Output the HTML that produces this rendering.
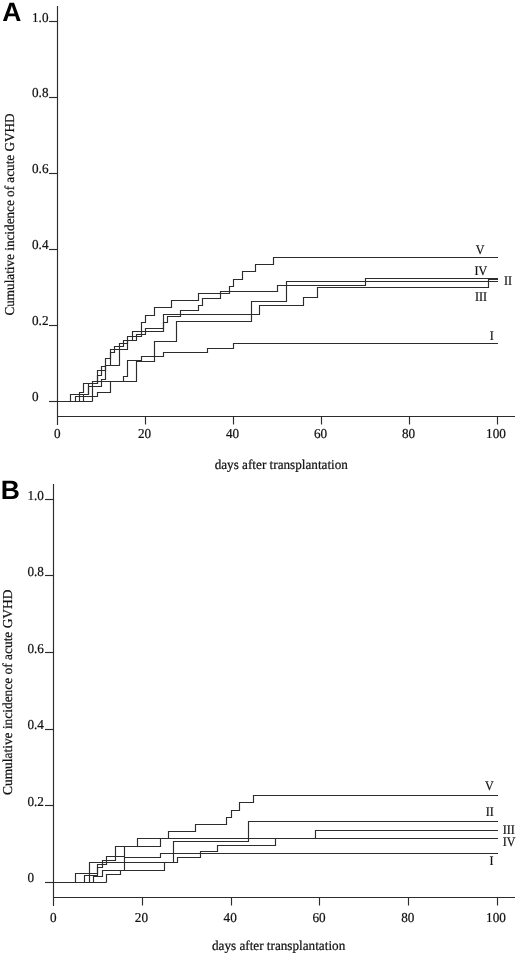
<!DOCTYPE html>
<html lang="en">
<head>
<meta charset="utf-8">
<title>Cumulative incidence of acute GVHD</title>
<style>
html,body{margin:0;padding:0;background:#fff;}
body{width:520px;height:958px;overflow:hidden;}
svg{display:block;}
.ax{fill:none;stroke:#2c2c2c;stroke-width:1.15;shape-rendering:auto;}
.cv{fill:none;stroke:#2c2c2c;stroke-width:1.15;stroke-linejoin:miter;}
text{font-family:"Liberation Serif","Times New Roman",Times,serif;font-size:13.6px;text-rendering:geometricPrecision;fill:#111;stroke:#111;stroke-width:0.22px;}
.lb{font-size:13.1px;}
.pl{font-family:"Liberation Sans",Arial,Helvetica,sans-serif;font-weight:bold;font-size:26.5px;text-rendering:geometricPrecision;stroke:none;fill:#000;}
</style>
</head>
<body>
<svg width="520" height="958" viewBox="0 0 520 958">
<rect x="0" y="0" width="520" height="958" fill="#ffffff"/>

<g>
<text class="pl" x="2.2" y="21.3">A</text>
<path class="ax" d="M57.5 6V425.0"/>
<path class="ax" d="M57.5 416.5H515"/>
<path class="ax" d="M145.5 416.5V424.5"/>
<path class="ax" d="M233.5 416.5V424.5"/>
<path class="ax" d="M321.5 416.5V424.5"/>
<path class="ax" d="M409.5 416.5V424.5"/>
<path class="ax" d="M497.5 416.5V424.5"/>
<text transform="translate(53.90 437.7) scale(0.97 1)">0</text>
<text transform="translate(138.00 437.7) scale(0.97 1)">20</text>
<text transform="translate(226.00 437.7) scale(0.97 1)">40</text>
<text transform="translate(314.00 437.7) scale(0.97 1)">60</text>
<text transform="translate(402.00 437.7) scale(0.97 1)">80</text>
<text transform="translate(486.10 437.7) scale(0.97 1)">100</text>
<path class="ax" d="M49.0 21.5H57.5"/>
<text transform="translate(32.00 21.95) scale(0.97 1)">1.0</text>
<path class="ax" d="M49.0 97.5H57.5"/>
<text transform="translate(32.00 97.20) scale(0.97 1)">0.8</text>
<path class="ax" d="M49.0 173.5H57.5"/>
<text transform="translate(32.00 173.40) scale(0.97 1)">0.6</text>
<path class="ax" d="M49.0 249.5H57.5"/>
<text transform="translate(32.00 249.20) scale(0.97 1)">0.4</text>
<path class="ax" d="M49.0 325.5H57.5"/>
<text transform="translate(32.00 325.20) scale(0.97 1)">0.2</text>
<path class="ax" d="M49.0 401.5H57.5"/>
<text transform="translate(32.00 400.85) scale(0.97 1)">0</text>
<text transform="translate(13.5 214.5) rotate(-90) scale(0.97 1)" text-anchor="middle">Cumulative incidence of acute GVHD</text>
<text transform="translate(281.3 468.6) scale(0.97 1)" text-anchor="middle">days after transplantation</text>
<path class="cv" d="M57.5 401.5H92.5"/>
<path class="cv" d="M75.5 401.5V396.5H97.5V392.5H110.5V381.5H123.5V376.5H127.5V360.5H141.5V356.5H163.5V352.5H207.5V348.5H233.5V343.5H498.0"/>
<path class="cv" d="M70.5 401.5V394.5H88.5V383.5H97.5V370.5H105.5V365.5H110.5V352.5H114.5V346.5H123.5V340.5H136.5V334.5H145.5V328.5H163.5V322.5H167.5V316.5H180.5V310.5H198.5V305.5H202.5V298.5H220.5V291.5H277.5V285.5H365.5V278.5H498.0"/>
<path class="cv" d="M92.5 401.5V381.5H136.5V361.5H154.5V341.5H176.5V321.5H251.5V301.5H286.5V281.5H498.0"/>
<path class="cv" d="M79.5 401.5V392.5H83.5V383.5H97.5V375.5H101.5V366.5H105.5V358.5H110.5V349.5H127.5V340.5H132.5V331.5H163.5V314.5H259.5V305.5H303.5V297.5H317.5V287.5H488.5V279.5H498.0"/>
<path class="cv" d="M83.5 401.5V394.5H88.5V386.5H101.5V379.5H105.5V365.5H119.5V343.5H127.5V336.5H141.5V322.5H145.5V315.5H154.5V307.5H171.5V300.5H198.5V293.5H229.5V286.5H233.5V279.5H242.5V271.5H255.5V264.5H273.5V257.5H498.0"/>
<text class="lb" transform="translate(475.8 254.4) scale(0.92 1)">V</text>
<text class="lb" transform="translate(474.6 275.3) scale(0.92 1)">IV</text>
<text class="lb" transform="translate(504 285.2) scale(0.92 1)">II</text>
<text class="lb" transform="translate(475 300.6) scale(0.92 1)">III</text>
<text class="lb" transform="translate(489.8 339.6) scale(0.92 1)">I</text>
</g>
<g>
<text class="pl" x="0.7" y="498.5">B</text>
<path class="ax" d="M53.5 484V906.0"/>
<path class="ax" d="M53.5 897.5H515"/>
<path class="ax" d="M142.5 897.5V905.5"/>
<path class="ax" d="M231.5 897.5V905.5"/>
<path class="ax" d="M319.5 897.5V905.5"/>
<path class="ax" d="M408.5 897.5V905.5"/>
<path class="ax" d="M497.5 897.5V905.5"/>
<text transform="translate(49.90 921.7) scale(0.97 1)">0</text>
<text transform="translate(134.80 921.7) scale(0.97 1)">20</text>
<text transform="translate(223.60 921.7) scale(0.97 1)">40</text>
<text transform="translate(312.40 921.7) scale(0.97 1)">60</text>
<text transform="translate(401.20 921.7) scale(0.97 1)">80</text>
<text transform="translate(486.10 921.7) scale(0.97 1)">100</text>
<path class="ax" d="M45.0 499.5H53.5"/>
<text transform="translate(27.40 499.80) scale(0.97 1)">1.0</text>
<path class="ax" d="M45.0 575.5H53.5"/>
<text transform="translate(27.40 575.90) scale(0.97 1)">0.8</text>
<path class="ax" d="M45.0 652.5H53.5"/>
<text transform="translate(27.40 652.95) scale(0.97 1)">0.6</text>
<path class="ax" d="M45.0 729.5H53.5"/>
<text transform="translate(27.40 729.20) scale(0.97 1)">0.4</text>
<path class="ax" d="M45.0 805.5H53.5"/>
<text transform="translate(27.40 805.70) scale(0.97 1)">0.2</text>
<path class="ax" d="M45.0 882.5H53.5"/>
<text transform="translate(27.40 881.60) scale(0.97 1)">0</text>
<text transform="translate(12.0 692.3) rotate(-90) scale(0.985 1)" text-anchor="middle">Cumulative incidence of acute GVHD</text>
<text transform="translate(278.6 950.2) scale(0.97 1)" text-anchor="middle">days after transplantation</text>
<path class="cv" d="M53.5 882.5H106.5"/>
<path class="cv" d="M84.5 882.5V875.5H97.5V867.5H102.5V860.5H115.5V846.5H137.5V838.5H168.5V831.5H195.5V824.5H226.5V817.5H231.5V810.5H239.5V802.5H253.5V795.5H498.0"/>
<path class="cv" d="M75.5 882.5V873.5H97.5V864.5H106.5V856.5H124.5V846.5H160.5V838.5H315.5V830.5H498.0"/>
<path class="cv" d="M89.5 882.5V862.5H173.5V841.5H248.5V821.5H498.0"/>
<path class="cv" d="M93.5 882.5V876.5H102.5V870.5H164.5V862.5H177.5V857.5H200.5V851.5H217.5V845.5H275.5V838.5H498.0"/>
<path class="cv" d="M106.5 882.5V874.5H120.5V870.5H124.5V857.5H160.5V853.5H498.0"/>
<text class="lb" transform="translate(485 790.3) scale(0.92 1)">V</text>
<text class="lb" transform="translate(485.8 815.7) scale(0.92 1)">II</text>
<text class="lb" transform="translate(502.8 833.6) scale(0.92 1)">III</text>
<text class="lb" transform="translate(502.8 845.7) scale(0.92 1)">IV</text>
<text class="lb" transform="translate(489.4 865.3) scale(0.92 1)">I</text>
</g>
</svg>
</body>
</html>
